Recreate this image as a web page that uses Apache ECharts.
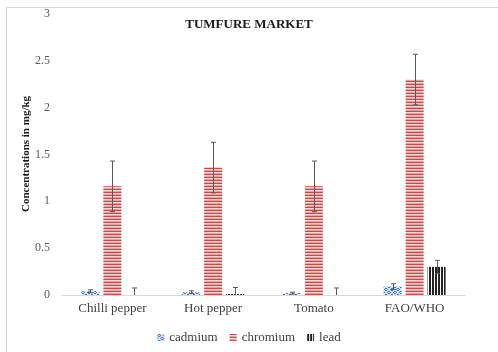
<!DOCTYPE html>
<html>
<head>
<meta charset="utf-8">
<script src="https://cdn.jsdelivr.net/npm/echarts@6/dist/echarts.min.js"></script>
<style>
  html, body { margin: 0; padding: 0; background: #fff; }
  #chart { width: 498px; height: 352px; }
</style>
</head>
<body>
<div id="chart"></div>
<script>
// Heavy-metal concentrations (mg/kg) per vegetable, with FAO/WHO limits
const categories = ['Chilli pepper', 'Hot pepper', 'Tomato', 'FAO/WHO'];
const seriesNames = ['cadmium', 'chromium', 'lead'];
const cadmium = [0.04, 0.03, 0.02, 0.09];
const cadmiumErr = [0.015, 0.015, 0.01, 0.03];
const chromium = [1.16, 1.36, 1.16, 2.30];
const chromiumErr = [0.27, 0.27, 0.27, 0.27];
const lead = [0, 0.01, 0, 0.30];
const leadErr = [0.075, 0.07, 0.075, 0.07];
const yTicks = [0, 0.5, 1, 1.5, 2, 2.5, 3];
const yAxisTitle = 'Concentrations in mg/kg';

const FONT = '"Liberation Serif", "Times New Roman", serif';
const BAR_W = 18;
const BAR_GAP = 0.22;

// Pattern fills drawn on small canvases
function makePattern(w, h, draw) {
  const c = document.createElement('canvas');
  c.width = w; c.height = h;
  const ctx = c.getContext('2d');
  draw(ctx);
  return { image: c, repeat: 'repeat' };
}
const cadmiumFill = makePattern(6, 6, ctx => {
  ctx.fillStyle = '#d6e2f5'; ctx.fillRect(0, 0, 6, 6);
  ctx.fillStyle = '#3f6fc4';
  // small rings on a staggered grid
  ctx.fillRect(1, 0, 2, 1); ctx.fillRect(0, 1, 1, 1); ctx.fillRect(3, 1, 1, 1); ctx.fillRect(1, 2, 2, 1);
  ctx.fillRect(4, 3, 2, 1); ctx.fillRect(3, 4, 1, 1); ctx.fillRect(0, 4, 1, 1); ctx.fillRect(4, 5, 2, 1);
});
const chromiumFill = makePattern(4, 3, ctx => {
  ctx.fillStyle = '#f6d3d3'; ctx.fillRect(0, 0, 4, 3);
  ctx.fillStyle = '#c9484a'; ctx.fillRect(0, 0, 4, 1);
  ctx.fillStyle = '#e9a2a2'; ctx.fillRect(0, 2, 4, 1);
});
const leadFill = makePattern(3, 4, ctx => {
  ctx.fillStyle = '#ffffff'; ctx.fillRect(0, 0, 3, 4);
  ctx.fillStyle = '#222222'; ctx.fillRect(0, 0, 2, 4);
});

const values = [cadmium, chromium, lead];
const errors = [cadmiumErr, chromiumErr, leadErr];
const fills = [cadmiumFill, chromiumFill, leadFill];

// One custom series of error bars per metal, offset to sit on its bar
function errorSeries(k) {
  const data = categories.map((c, i) => [i, values[k][i], errors[k][i]]);
  return {
    type: 'custom',
    name: seriesNames[k] + ' error',
    z: 5,
    silent: true,
    renderItem: function (params, api) {
      const i = api.value(0);
      const v = api.value(1);
      const e = api.value(2);
      const offset = (k - 1) * BAR_W * (1 + BAR_GAP);
      const top = api.coord([i, v + e]);
      const clamped = v - e <= 0;
      const bot = api.coord([i, Math.max(0, v - e)]);
      const x = Math.round(top[0] + offset) + 0.5;
      const cap = 2.5;
      const style = { stroke: '#595959', lineWidth: 1, fill: null };
      const children = [
        { type: 'line', shape: { x1: x, y1: top[1], x2: x, y2: bot[1] }, style: style },
        { type: 'line', shape: { x1: x - cap, y1: top[1], x2: x + cap, y2: top[1] }, style: style }
      ];
      if (!clamped) {
        children.push({ type: 'line', shape: { x1: x - cap, y1: bot[1], x2: x + cap, y2: bot[1] }, style: style });
      }
      return { type: 'group', children: children };
    },
    data: data
  };
}

const barSeries = seriesNames.map((name, k) => ({
  type: 'bar',
  name: name,
  data: values[k],
  barWidth: BAR_W,
  barGap: (BAR_GAP * 100) + '%',
  itemStyle: { color: fills[k] }
}));

const chart = echarts.init(document.getElementById('chart'), null, { renderer: 'canvas' });
chart.setOption({
  animation: false,
  backgroundColor: '#ffffff',
  title: {
    text: 'TUMFURE MARKET',
    left: 'center',
    top: 13,
    textStyle: { fontFamily: FONT, fontSize: 13, fontWeight: 'bold', color: '#1a1a1a' }
  },
  graphic: [{
    type: 'rect',
    shape: { x: 6.5, y: 7.5, width: 600, height: 400 },
    style: { fill: null, stroke: '#d9d9d9', lineWidth: 1 },
    silent: true
  }, {
    // vertical axis title
    type: 'text',
    x: 26,
    y: 154,
    rotation: Math.PI / 2,
    style: {
      text: yAxisTitle,
      fontFamily: FONT,
      fontSize: 11,
      fontWeight: 'bold',
      fill: '#1a1a1a',
      align: 'center',
      verticalAlign: 'middle'
    },
    silent: true
  }],
  grid: { left: 62, right: 33, top: 14, bottom: 57 },
  legend: {
    data: seriesNames,
    bottom: 3,
    left: 'center',
    itemWidth: 7,
    itemHeight: 7,
    itemGap: 12,
    icon: 'rect',
    textStyle: { fontFamily: FONT, fontSize: 13, color: '#404040' }
  },
  xAxis: {
    type: 'category',
    data: categories,
    axisLine: { lineStyle: { color: '#d9d9d9', width: 1 } },
    axisTick: { show: false },
    axisLabel: { fontFamily: FONT, fontSize: 13, color: '#404040', margin: 7 }
  },
  yAxis: {
    type: 'value',
    min: yTicks[0],
    max: yTicks[yTicks.length - 1],
    interval: 0.5,
    axisLine: { show: false },
    axisTick: { show: false },
    splitLine: { show: false },
    axisLabel: { fontFamily: FONT, fontSize: 12, color: '#595959', margin: 12 }
  },
  series: barSeries.concat([0, 1, 2].map(errorSeries))
});
</script>
</body>
</html>
